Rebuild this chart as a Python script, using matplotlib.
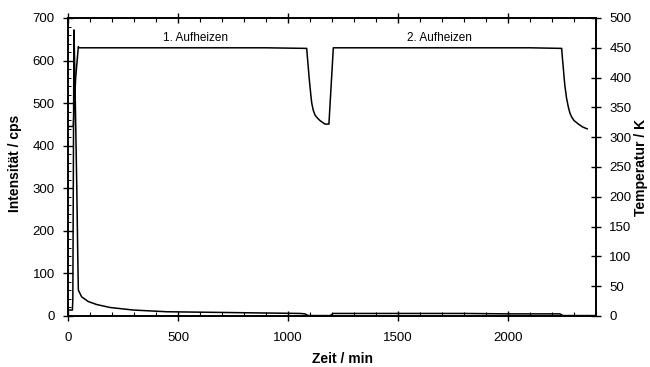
import matplotlib
matplotlib.use("Agg")
import matplotlib.pyplot as plt
from matplotlib.ticker import MultipleLocator

plt.rcParams['font.family'] = ['Liberation Sans', 'DejaVu Sans']

# Intensity (cps) vs time (min)
t_int = [0, 20, 22, 27, 30, 40, 45, 47, 62, 92, 130, 191, 297, 449, 600, 751, 900,
         1055, 1077, 1092, 1150, 1191, 1206, 1400, 1600, 1800, 2000, 2236, 2250, 2300, 2395]
intensity = [14, 14, 40, 672, 600, 300, 120, 61, 45, 34, 27, 20, 14, 10, 9, 8, 7,
             6, 5, 1, 1, 1, 6, 6, 6, 6, 5, 5, 1, 1, 1]

# Temperature (K) vs time (min)
t_temp = [0, 24, 35, 47, 50, 300, 600, 900, 1085, 1088, 1092, 1096, 1100, 1104, 1108,
          1115, 1123, 1134, 1145, 1168,
          1186, 1206, 1500, 1800, 2100, 2244, 2247, 2251, 2255, 2259, 2266, 2274,
          2281, 2289, 2300, 2320, 2340, 2360]
temperature = [318, 318, 400, 452, 450, 450, 450, 450, 449, 435, 418, 400, 385, 370, 357,
               345, 337, 332, 328, 322,
               322, 450, 450, 450, 450, 449, 434, 418, 400, 385, 366, 351,
               341, 334, 328, 322, 317, 314]

annotations = ["1. Aufheizen", "2. Aufheizen"]
annot_x = [580, 1690]
annot_y = [653, 653]

fig = plt.figure(figsize=(6.5, 3.67), dpi=100)
ax = fig.add_axes([68/650, 1-316/367, (596-68)/650, (316-18)/367])
ax2 = ax.twinx()

ax.plot(t_int, intensity, color='black', lw=1.1)
ax2.plot(t_temp, temperature, color='black', lw=1.1)

ax.set_xlim(0, 2400)
ax.set_ylim(0, 700)
ax2.set_ylim(0, 500)

ax.xaxis.set_major_locator(MultipleLocator(500))
ax.xaxis.set_minor_locator(MultipleLocator(100))
ax.yaxis.set_major_locator(MultipleLocator(100))
ax.yaxis.set_minor_locator(MultipleLocator(20))
ax2.yaxis.set_major_locator(MultipleLocator(50))

fs = 9.5
ax.tick_params(axis='x', which='major', direction='inout', length=7, width=1, labelsize=fs, pad=8, top=True)
ax.tick_params(axis='x', which='minor', direction='in', length=3, width=0.8, top=True)
ax.tick_params(axis='y', which='major', direction='inout', length=7, width=1, labelsize=fs, pad=6)
ax.tick_params(axis='y', which='minor', direction='in', length=2.5, width=0.7)
ax2.tick_params(axis='y', which='major', direction='inout', length=7, width=1, labelsize=fs, pad=6)

for a in (ax, ax2):
    for s in a.spines.values():
        s.set_linewidth(1.2)

for txt, x, y in zip(annotations, annot_x, annot_y):
    ax.text(x, y, txt, ha='center', va='center', fontsize=8.5)

fig.text(15/650, 1-163/367, "Intensität / cps", rotation=90, ha='center', va='center',
         fontsize=10, fontweight='bold')
fig.text(641/650, 1-167/367, "Temperatur / K", rotation=90, ha='center', va='center',
         fontsize=10, fontweight='bold')
fig.text(342/650, 1-359/367, "Zeit / min", ha='center', va='center',
         fontsize=10, fontweight='bold')

fig.savefig("out.png", dpi=100)
